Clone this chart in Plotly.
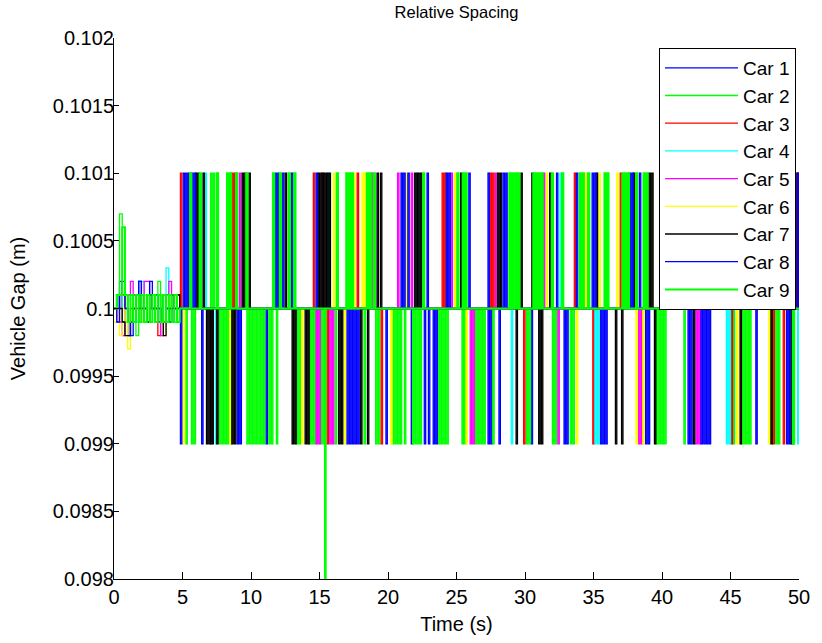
import plotly.graph_objects as go

# ---------------- data ----------------
car_names = ["Car 1", "Car 2", "Car 3", "Car 4", "Car 5", "Car 6", "Car 7", "Car 8", "Car 9"]
car_colors = ["#0000ff", "#00ff00", "#ff0000", "#00ffff", "#ff00ff",
              "#ffff00", "#000000", "#0000ff", "#00ff00"]

BASE_GAP = 0.1          # m, desired gap
SAMPLE_DT = 0.1         # s, one character of a burst pattern
LEVELS = {"+": 0.101, "0": 0.1, "-": 0.099}

# start-up transient: deviation from 0.1 m, in units of 1e-4 m
early_t = [0.0, 0.2, 0.4, 0.6, 0.8, 1.0, 1.2, 1.4, 1.6, 1.8, 2.0, 2.2, 2.4,
           2.6, 2.8, 3.0, 3.2, 3.4, 3.6, 3.8, 4.0, 4.2, 4.4, 4.6, 4.8]
car1_early = [0, 0, 2, -1, -1, -2, -1, 0, 1, 2, 1, 0, -1, 0, 1, 0, -1, 0, 1, 0, -1, 0, 1, 0, 0]
car2_early = [0, 1, 7, 1, -1, 1, -1, 1, -2, 1, -1, 1, -1, 1, 0, 1, 2, 1, -1, 1, -1, 1, -1, 1, 0]
car3_early = [0, -1, 0, 1, 0, -1, 0, 1, 0, -1, 0, 1, 0, 0, 1, -1, -2, -1, 1, 0, 1, -1, 0, 1, 0]
car4_early = [0, 0, 1, -1, 0, 1, 1, 0, -1, 2, 2, 1, 0, -1, 1, 0, 1, 0, 1, 3, 1, 0, -1, 0, 0]
car5_early = [0, -1, -1, -2, 0, 1, 2, 1, 0, -1, 1, 2, 2, 1, 0, -1, 0, -2, -1, 1, 2, 1, 0, -1, 0]
car6_early = [-1, 0, -2, 0, -1, -3, -1, 0, 1, 0, -1, 1, 0, -1, 1, 0, 0, 1, -2, -1, 1, 0, 1, 0, 0]
car7_early = [0, 1, 0, -1, -2, -2, -1, 0, 1, 0, 1, 0, -1, 1, 0, 0, 1, -1, -2, -1, 0, 1, 0, 1, 0]
car8_early = [0, -1, 1, 2, 0, -1, -2, -1, 1, 2, 0, -1, 1, 2, 0, 1, 0, -1, 1, 0, -1, 0, 1, 0, 0]
car9_early = [0, 1, 1, 6, 1, -1, 1, -1, 1, -1, 1, -1, 1, -1, 1, -1, 1, -1, 1, -1, 1, -1, 1, -1, 0]

# quantised bursts after 5 s: (start time s, pattern)  '+'=0.101  '0'=0.1  '-'=0.099
car1_bursts = [(5.05, "+0+0+"), (6.4, "-"), (9.0, "-0-0"), (11.1, "-0"), (12.3, "+0"),
               (17.0, "-0-0-0-0-"), (19.85, "-0"), (21.7, "-"), (22.65, "-0"), (22.95, "-"),
               (23.3, "-0-0"), (27.3, "-0-"), (28.1, "-0"), (30.45, "-"), (32.85, "-0-0"),
               (35.5, "-0-0-0"), (38.8, "-0-0"), (41.0, "+0+0"), (41.9, "-0-0"),
               (46.85, "-0"), (49.1, "-0-")]
car2_bursts = [(5.25, "-0"), (5.65, "-0-0"), (7.05, "+0+"), (7.7, "-0-0-0-0-"),
               (9.7, "-0-0-0-0-0-0-0"), (11.3, "-0-"), (11.85, "-0"), (13.3, "-0-0"),
               (14.25, "-0-0-"), (15.05, "-0-0"), (16.15, "-0"), (18.25, "-0"), (19.1, "-0-"),
               (20.3, "-0-0-0-"), (21.2, "-0"), (21.8, "-0-0-"), (22.35, "-0"),
               (23.7, "-0-0-0-0"), (25.4, "-0-"), (26.4, "-0-0-0-"), (27.65, "-0"),
               (30.1, "-0-"), (32.0, "-0-"), (33.3, "-0-0"), (39.6, "-0-0-0-0"), (41.6, "-0"),
               (45.2, "-0"), (45.8, "-0-0-0-"), (48.3, "-0-0")]
car3_bursts = [(4.85, "+0"), (8.6, "+0+"), (14.55, "+0"), (15.2, "+"), (15.55, "-0"),
               (17.75, "+0"), (19.5, "-0"), (23.95, "+0+"), (27.45, "+0+0"), (29.9, "-0"),
               (33.6, "+"), (34.95, "-0"), (36.95, "+"), (45.05, "-"), (46.0, "+0"),
               (48.1, "-"), (48.85, "-")]
car4_bursts = [(6.65, "+"), (7.4, "-"), (15.6, "+"), (22.1, "+"), (29.0, "-"), (32.55, "+"),
               (35.1, "-0-0"), (40.6, "+0"), (44.7, "-0-"), (49.9, "-")]
car5_bursts = [(7.05, "-"), (9.15, "+0"), (14.75, "-0-"), (15.75, "-0-0"), (18.8, "+"),
               (20.7, "+0"), (21.7, "+0"), (24.6, "+0"), (26.0, "-0-"), (27.85, "+0"),
               (31.35, "+0"), (32.4, "-"), (38.3, "-0-"), (42.5, "-0-"), (45.0, "+0"),
               (49.75, "+")]
car6_bursts = [(5.05, "-0"), (8.45, "-"), (13.7, "-0"), (16.0, "+0"), (16.8, "-0"),
               (17.5, "+0"), (18.1, "+0+"), (20.2, "-"), (21.25, "+0"), (24.85, "+0"),
               (25.7, "-0"), (31.55, "+0"), (33.75, "-"), (34.4, "+0"), (35.4, "+"),
               (36.7, "+0"), (38.1, "-"), (38.6, "-"), (45.45, "-0"), (47.8, "-")]
car7_bursts = [(5.95, "+0+"), (6.5, "+0"), (6.75, "-0-"), (7.15, "-0"), (7.5, "-0"),
               (8.6, "-0-0"), (9.35, "+0+"), (9.85, "+0"), (12.5, "+0"), (13.0, "-0-"),
               (13.95, "-0-"), (14.9, "+0+"), (15.3, "+0+0+0"), (16.4, "-0-0"), (18.0, "-0"),
               (18.5, "-0"), (19.2, "+0"), (19.45, "+0"), (21.95, "+0+0+0"), (25.3, "+"),
               (28.0, "+0+"), (29.35, "-0"), (29.7, "+"), (30.5, "+"), (31.0, "-0-"),
               (31.8, "+"), (35.2, "+0"), (36.6, "-0"), (37.05, "-0"), (37.9, "+"),
               (39.05, "+0+"), (39.45, "-0"), (42.3, "-0"), (43.5, "+0"), (45.7, "-"),
               (47.95, "-"), (49.45, "-"), (49.85, "+")]
car8_bursts = [(4.85, "-0"), (5.65, "+0+"), (11.8, "+0+"), (12.95, "+0"), (14.75, "+0"),
               (20.95, "+0+"), (21.45, "+0"), (22.85, "+0"), (24.25, "+0+"), (25.9, "+0"),
               (27.3, "+"), (28.4, "+0+0"), (32.3, "+0"), (33.75, "+0"), (34.9, "+0+"),
               (37.6, "+0+"), (38.35, "+0"), (42.85, "-0-0-0-"), (44.0, "+0+"), (49.9, "+0")]
car9_bursts = [(5.55, "+"), (6.25, "+0"), (7.5, "+0"), (8.25, "+0+"), (8.9, "+0"),
               (9.65, "+0"), (11.6, "+0"), (12.1, "+0"), (12.75, "+0"), (13.15, "+"),
               (16.25, "+0"), (16.95, "+0+0+"), (18.45, "+0+"), (18.95, "+0"), (22.55, "+0"),
               (25.05, "+0"), (25.45, "+0+0"), (28.85, "+0+"), (29.3, "+0+0"),
               (30.6, "+0+0+0+"), (31.95, "+0"), (32.7, "+0"), (34.0, "+0+"), (34.6, "+0"),
               (35.8, "+0+"), (37.1, "+0+0+"), (38.1, "+0"), (38.65, "+0+0"), (49.55, "-0")]
# single deep excursion of the last car (goes below the visible range)
car9_dip = [(15.40, 0.0975), (15.45, 0.1)]

end_time = 50.0

early_all = [car1_early, car2_early, car3_early, car4_early, car5_early,
             car6_early, car7_early, car8_early, car9_early]
bursts_all = [car1_bursts, car2_bursts, car3_bursts, car4_bursts, car5_bursts,
              car6_bursts, car7_bursts, car8_bursts, car9_bursts]
extra_all = [[], [], [], [], [], [], [], [], car9_dip]
line_widths = [1.3, 1.3, 1.3, 1.3, 1.3, 1.3, 1.3, 1.3, 2.0]

# axes tick labels
x_ticks = [0, 5, 10, 15, 20, 25, 30, 35, 40, 45, 50]
y_ticks = [0.098, 0.0985, 0.099, 0.0995, 0.1, 0.1005, 0.101, 0.1015, 0.102]
y_tick_text = ["0.098", "0.0985", "0.099", "0.0995", "0.1", "0.1005", "0.101", "0.1015", "0.102"]


def build_series(early, bursts, extra):
    pts = [(t, BASE_GAP + d * 1e-4) for t, d in zip(early_t, early)]
    for t0, pattern in bursts:
        for j, ch in enumerate(pattern):
            pts.append((round(t0 + j * SAMPLE_DT, 4), LEVELS[ch]))
        pts.append((round(t0 + len(pattern) * SAMPLE_DT, 4), BASE_GAP))
    pts.extend(extra)
    pts.append((end_time, BASE_GAP))
    pts.sort(key=lambda p: p[0])
    return [p[0] for p in pts], [p[1] for p in pts]


fig = go.Figure()
for name, color, early, bursts, extra, lw in zip(car_names, car_colors, early_all,
                                                 bursts_all, extra_all, line_widths):
    xs, ys = build_series(early, bursts, extra)
    fig.add_trace(go.Scatter(x=xs, y=ys, mode="lines", name=name,
                             line=dict(color=color, width=lw, shape="hv")))

FONT = "Liberation Sans, Arial, Helvetica, sans-serif"
fig.update_layout(
    width=822, height=643,
    margin=dict(l=114, r=21, t=38, b=61),
    paper_bgcolor="white", plot_bgcolor="white",
    font=dict(family=FONT, color="black", size=20),
    title=dict(text="Relative Spacing", x=0.5, xref="paper", xanchor="center",
               y=1 - 12 / 643, yanchor="middle", font=dict(size=16.5, family=FONT)),
    showlegend=True,
    legend=dict(x=(798 - 114) / 687, xanchor="right", y=(582 - 48) / 544, yanchor="top",
                bgcolor="white", bordercolor="black", borderwidth=1, itemwidth=73,
                entrywidth=65, entrywidthmode="pixels",
                font=dict(size=19, family=FONT), tracegroupgap=0),
)
fig.update_xaxes(range=[0, 50], tickvals=x_ticks, ticktext=[str(v) for v in x_ticks],
                 showline=True, linecolor="black", linewidth=1, ticks="inside", ticklen=7,
                 tickcolor="black", showgrid=False, zeroline=False, mirror=False,
                 tickfont=dict(size=20),
                 title=dict(text="Time (s)", font=dict(size=20), standoff=9))
fig.update_yaxes(range=[0.098, 0.102], tickvals=y_ticks, ticktext=y_tick_text,
                 showline=True, linecolor="black", linewidth=1, ticks="inside", ticklen=5,
                 tickcolor="black", showgrid=False, zeroline=False, mirror=False,
                 tickfont=dict(size=20), ticklabelstandoff=-5,
                 title=dict(text="Vehicle Gap (m)", font=dict(size=20), standoff=21))

fig.write_html("out.html")
